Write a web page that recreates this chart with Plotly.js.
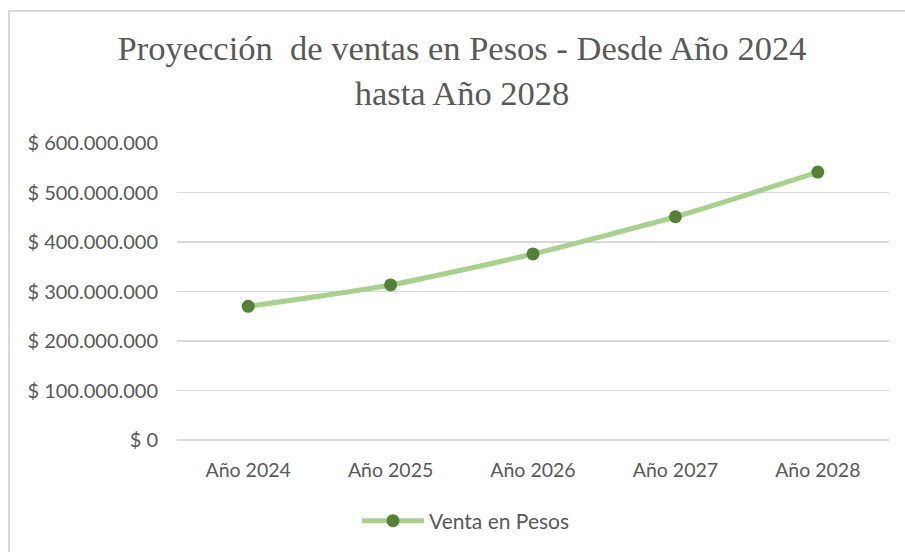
<!DOCTYPE html>
<html>
<head>
<meta charset="utf-8">
<script src="https://cdn.plot.ly/plotly-3.0.1.min.js"></script>
<style>
  html, body { margin: 0; padding: 0; background: #ffffff; }
  #chart { position: absolute; left: 0; top: 0; width: 905px; height: 552px; }
  #frame { position: absolute; left: 8px; top: 10px; width: 1200px; height: 1000px;
           border-left: 2px solid #d9d9d9; border-top: 2px solid #d9d9d9;
           pointer-events: none; z-index: 10; }
</style>
</head>
<body>
<div id="chart"></div>
<div id="frame"></div>
<script>
// Data
const categories = ["Año 2024", "Año 2025", "Año 2026", "Año 2027", "Año 2028"];
const ventas = [270000000, 313200000, 375840000, 451008000, 541209600];
const seriesName = "Venta en Pesos";
const yTicks = [0, 100000000, 200000000, 300000000, 400000000, 500000000, 600000000];
const yTickText = yTicks.map(v => "$ " + v.toLocaleString("de-DE"));
const chartTitle = "Proyección  de ventas en Pesos - Desde Año 2024<br>hasta Año 2028";

const textColor = "#595959";
const gridColor = "#d9d9d9";

const trace = {
  type: "scatter",
  mode: "lines+markers",
  x: categories,
  y: ventas,
  name: seriesName,
  line: { color: "#a9d18e", width: 5, shape: "spline", smoothing: 0.6 },
  marker: { color: "#548235", size: 13, line: { width: 0 } },
  hoverinfo: "skip",
  showlegend: true
};

const layout = {
  width: 905,
  height: 552,
  margin: { l: 177, r: 16, t: 143, b: 112 },
  paper_bgcolor: "#ffffff",
  plot_bgcolor: "#ffffff",
  title: {
    text: chartTitle,
    font: { family: "Liberation Serif, Times New Roman, serif", size: 34.5, color: textColor },
    x: 462 / 905,
    xref: "container",
    xanchor: "center",
    y: 1 - 60 / 552,
    yref: "container",
    yanchor: "top"
  },
  xaxis: {
    type: "category",
    range: [-0.5, 4.5],
    showgrid: false,
    zeroline: false,
    showline: false,
    ticks: "",
    ticklabelstandoff: 16,
    tickfont: { family: "Lato, Carlito, Calibri, sans-serif", size: 19.5, color: textColor },
    fixedrange: true
  },
  yaxis: {
    range: [0, 600000000],
    tickmode: "array",
    tickvals: yTicks,
    ticktext: yTickText,
    showgrid: true,
    gridcolor: gridColor,
    gridwidth: 1.5,
    zeroline: true,
    zerolinecolor: gridColor,
    zerolinewidth: 1.5,
    showline: false,
    ticks: "",
    ticklabelstandoff: 18,
    tickfont: { family: "Lato, Carlito, Calibri, sans-serif", size: 20, color: textColor },
    fixedrange: true
  },
  showlegend: true,
  legend: {
    orientation: "h",
    x: 466 / 905,
    xref: "container",
    xanchor: "center",
    y: 1 - 521 / 552,
    yref: "container",
    yanchor: "middle",
    itemwidth: 62,
    font: { family: "Lato, Carlito, Calibri, sans-serif", size: 21, color: textColor },
    bgcolor: "rgba(0,0,0,0)"
  }
};

Plotly.newPlot("chart", [trace], layout, { displayModeBar: false, staticPlot: true });
</script>
</body>
</html>
